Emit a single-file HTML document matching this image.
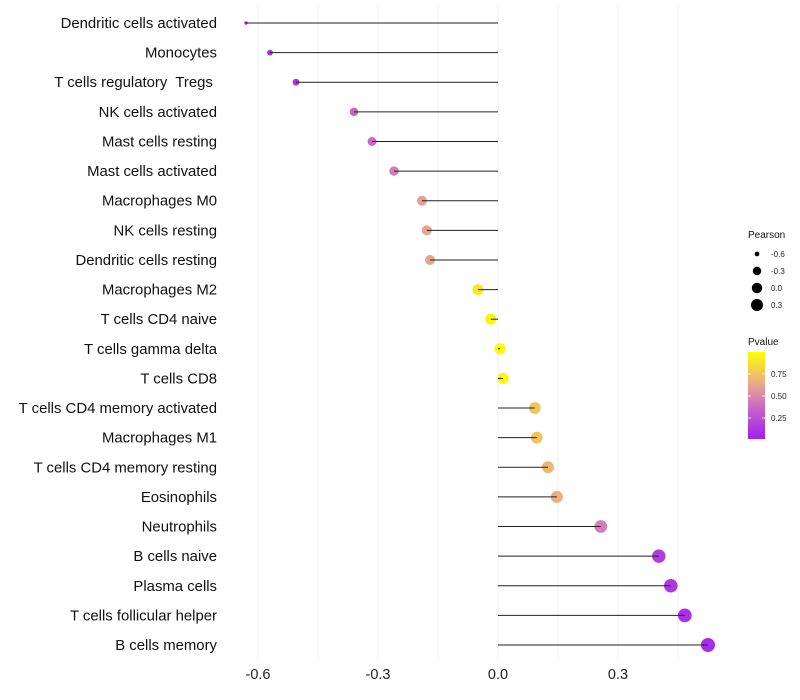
<!DOCTYPE html>
<html><head><meta charset="utf-8"><style>
body{margin:0;background:#fff;font-family:"Liberation Sans",sans-serif}
svg{display:block}
text{white-space:pre}
</style></head><body>
<svg id="chart" width="800" height="700" xmlns="http://www.w3.org/2000/svg" xml:space="preserve"></svg>
<script>
const categories=["Dendritic cells activated","Monocytes","T cells regulatory  Tregs ","NK cells activated","Mast cells resting","Mast cells activated","Macrophages M0","NK cells resting","Dendritic cells resting","Macrophages M2","T cells CD4 naive","T cells gamma delta","T cells CD8","T cells CD4 memory activated","Macrophages M1","T cells CD4 memory resting","Eosinophils","Neutrophils","B cells naive","Plasma cells","T cells follicular helper","B cells memory"];
const pearson=[-0.63,-0.57,-0.505,-0.36,-0.315,-0.26,-0.19,-0.178,-0.17,-0.05,-0.018,0.005,0.0125,0.092,0.097,0.125,0.147,0.257,0.402,0.432,0.467,0.525];
const pvalue=[0.05,0.08,0.1,0.35,0.38,0.45,0.6,0.62,0.62,0.9,0.95,0.98,0.97,0.75,0.75,0.7,0.66,0.45,0.15,0.12,0.09,0.06];
const xTicks=[-0.6,-0.3,0.0,0.3];
const xTickLabels=["-0.6","-0.3","0.0","0.3"];
const legendSizes=[-0.6,-0.3,0.0,0.3];
const legendSizeLabels=["-0.6","-0.3","0.0","0.3"];
const pTicks=[0.25,0.5,0.75];
const pTickLabels=["0.25","0.50","0.75"];

const svg=document.getElementById('chart');
const NS="http://www.w3.org/2000/svg";
const x=v=>498+v*400;
const y=i=>23+i*(622/21);
const rad=v=>1.7+5.3*Math.sqrt(Math.max(0,(v+0.63)/1.155));
const stops=[[0,[160,32,240]],[0.35,[200,100,200]],[0.6,[232,160,150]],[1,[255,255,0]]];
function col(p){for(let k=1;k<stops.length;k++){if(p<=stops[k][0]){const a=stops[k-1],b=stops[k];const t=(p-a[0])/(b[0]-a[0]);return 'rgb('+a[1].map((c,j)=>Math.round(c+(b[1][j]-c)*t)).join(',')+')';}}return 'rgb(255,255,0)';}
function mk(tag,attrs,parent){const e=document.createElementNS(NS,tag);for(const k in attrs)e.setAttribute(k,attrs[k]);(parent||svg).appendChild(e);return e;}

[-0.6,-0.45,-0.3,-0.15,0,0.15,0.3,0.45].forEach(v=>{
 const g=mk('line',{x1:x(v),x2:x(v),y1:5,y2:662,stroke:'#f0f0f0','stroke-width':1});
 
 
});
xTicks.forEach((v,i)=>{
 const t=mk('text',{x:x(v),y:679,'text-anchor':'middle','font-size':14.5,fill:'#222'});
 t.textContent=xTickLabels[i];
 
 
});
categories.forEach((c,i)=>{
 const t=mk('text',{x:217,y:y(i)+5,'text-anchor':'end','font-size':14.9,fill:'#111'});
 t.textContent=c;
 
 
 const d=mk('circle',{cx:x(pearson[i]),cy:y(i),r:rad(pearson[i]),fill:col(pvalue[i])});
 
 
 const l=mk('line',{x1:x(0),x2:x(pearson[i]),y1:y(i),y2:y(i),stroke:'#222','stroke-width':1});
 
 
});
const st=mk('text',{x:748,y:238,'font-size':10,fill:'#111'});st.textContent='Pearson';


legendSizes.forEach((v,i)=>{
 const cy=254+i*17;
 const c=mk('circle',{cx:757,cy:cy,r:rad(v)*0.93,fill:'#000'});
 
 
 const t=mk('text',{x:771,y:cy+3,'font-size':8,fill:'#222'});t.textContent=legendSizeLabels[i];
 
 
});
const ct=mk('text',{x:748,y:345,'font-size':10,fill:'#111'});ct.textContent='Pvalue';


const defs=mk('defs',{});
const lg=mk('linearGradient',{id:'pg',x1:0,y1:1,x2:0,y2:0},defs);
stops.forEach(s=>mk('stop',{offset:s[0],'stop-color':'rgb('+s[1].join(',')+')'},lg));
const bar=mk('rect',{x:748,y:352,width:17,height:87,fill:'url(#pg)'});


const py=p=>440-p*88;
pTicks.forEach((p,i)=>{
 mk('line',{x1:748,x2:751,y1:py(p),y2:py(p),stroke:'#fff','stroke-width':0.8});
 mk('line',{x1:762,x2:765,y1:py(p),y2:py(p),stroke:'#fff','stroke-width':0.8});
 const t=mk('text',{x:771,y:py(p)+3,'font-size':8,fill:'#222'});t.textContent=pTickLabels[i];
 
 
});
</script>
</body></html>
